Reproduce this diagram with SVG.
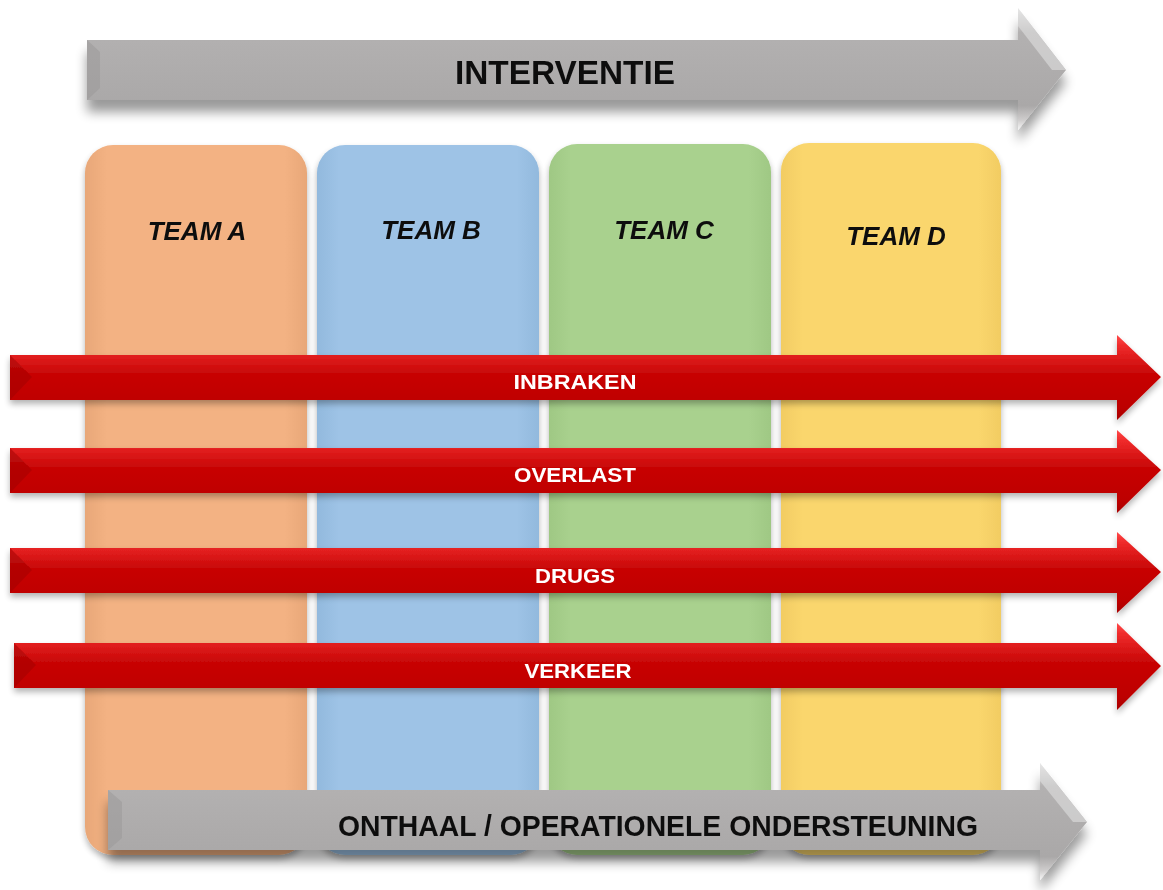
<svg xmlns="http://www.w3.org/2000/svg" width="1163" height="890" viewBox="0 0 1163 890">
<style>
.team{font-family:"Liberation Sans",Arial,sans-serif;font-weight:bold;font-style:italic;font-size:26px;fill:#111;text-anchor:middle}
.gtxt{font-family:"Liberation Sans",Arial,sans-serif;font-weight:bold;fill:#111;text-anchor:middle}
.rtxt{font-family:"Liberation Sans",Arial,sans-serif;font-weight:bold;font-size:21px;fill:#fff;text-anchor:middle}
</style>
<defs>
<filter id="sh" x="-10%" y="-30%" width="120%" height="180%">
<feGaussianBlur in="SourceAlpha" stdDeviation="6"/>
<feOffset dx="0" dy="12" result="b"/>
<feComponentTransfer><feFuncA type="linear" slope="0.4"/></feComponentTransfer>
<feMerge><feMergeNode/><feMergeNode in="SourceGraphic"/></feMerge>
</filter>
<filter id="shs" x="-5%" y="-30%" width="110%" height="170%">
<feGaussianBlur in="SourceAlpha" stdDeviation="3"/>
<feOffset dx="0" dy="4" result="b"/>
<feComponentTransfer><feFuncA type="linear" slope="0.3"/></feComponentTransfer>
<feMerge><feMergeNode/><feMergeNode in="SourceGraphic"/></feMerge>
</filter>
<linearGradient id="gray" x1="0" y1="0" x2="0" y2="1">
<stop offset="0" stop-color="#f4f4f4"/>
<stop offset="0.06" stop-color="#dad9d9"/>
<stop offset="0.2" stop-color="#b3b1b1"/>
<stop offset="0.8" stop-color="#aaa8a8"/>
<stop offset="0.92" stop-color="#cfcdcd"/>
<stop offset="1" stop-color="#f7f7f7"/>
</linearGradient>
<linearGradient id="red" x1="0" y1="0" x2="0" y2="1">
<stop offset="0" stop-color="#ff4a4a"/>
<stop offset="0.12" stop-color="#f02c2c"/>
<stop offset="0.45" stop-color="#c80606"/>
<stop offset="0.85" stop-color="#bd0000"/>
<stop offset="1" stop-color="#a80000"/>
</linearGradient>
<linearGradient id="cA" x1="0" y1="0" x2="1" y2="0"><stop offset="0" stop-color="#e8a778"/><stop offset="0.1" stop-color="#f3b283"/><stop offset="0.9" stop-color="#f3b283"/><stop offset="1" stop-color="#e8a778"/></linearGradient>
<linearGradient id="cB" x1="0" y1="0" x2="1" y2="0"><stop offset="0" stop-color="#92b9dd"/><stop offset="0.1" stop-color="#9ec3e6"/><stop offset="0.9" stop-color="#9ec3e6"/><stop offset="1" stop-color="#92b9dd"/></linearGradient>
<linearGradient id="cC" x1="0" y1="0" x2="1" y2="0"><stop offset="0" stop-color="#9fc884"/><stop offset="0.1" stop-color="#a9d18e"/><stop offset="0.9" stop-color="#a9d18e"/><stop offset="1" stop-color="#9fc884"/></linearGradient>
<linearGradient id="cD" x1="0" y1="0" x2="1" y2="0"><stop offset="0" stop-color="#f2cc62"/><stop offset="0.1" stop-color="#fad66d"/><stop offset="0.9" stop-color="#fad66d"/><stop offset="1" stop-color="#f2cc62"/></linearGradient>
</defs>
<rect width="1163" height="890" fill="#fff"/>

<g id="teamA" filter="url(#shs)"><rect x="85" y="145" width="222" height="710" rx="28" fill="url(#cA)"/><text class="team" x="197" y="240">TEAM A</text></g>
<g id="teamB" filter="url(#shs)"><rect x="317" y="145" width="222" height="710" rx="28" fill="url(#cB)"/><text class="team" x="431" y="239">TEAM B</text></g>
<g id="teamC" filter="url(#shs)"><rect x="549" y="144" width="222" height="711" rx="28" fill="url(#cC)"/><text class="team" x="664" y="239">TEAM C</text></g>
<g id="teamD" filter="url(#shs)"><rect x="781" y="143" width="220" height="712" rx="28" fill="url(#cD)"/><text class="team" x="896" y="245">TEAM D</text></g>

<g id="interventie" filter="url(#sh)">
<polygon points="87,40 1018,40 1018,8 1066,70 1018,130 1018,100 87,100" fill="url(#gray)"/>
<polygon points="1018,8 1066,70 1052,70 1018,26" fill="#e0dfdf" opacity="0.6"/>
<polygon points="87,40 100,52 100,88 87,100" fill="#9a9898" opacity="0.5"/>
<text class="gtxt" x="565" y="84" font-size="34" textLength="220" lengthAdjust="spacingAndGlyphs">INTERVENTIE</text>
</g>

<g id="connectors">
<g id="inbraken" filter="url(#shs)">
<polygon points="10,355 1117,355 1117,335 1161,377 1117,420 1117,400 10,400" fill="url(#red)"/>
<polygon points="10,355 32,377 10,400" fill="#a00000" opacity="0.5"/>
<text class="rtxt" x="575" y="389" textLength="123" lengthAdjust="spacingAndGlyphs">INBRAKEN</text>
</g>
<g id="overlast" filter="url(#shs)">
<polygon points="10,448 1117,448 1117,430 1161,470 1117,513 1117,493 10,493" fill="url(#red)"/>
<polygon points="10,448 32,470 10,493" fill="#a00000" opacity="0.5"/>
<text class="rtxt" x="575" y="482" textLength="122" lengthAdjust="spacingAndGlyphs">OVERLAST</text>
</g>
<g id="drugs" filter="url(#shs)">
<polygon points="10,548 1117,548 1117,532 1161,572 1117,613 1117,593 10,593" fill="url(#red)"/>
<polygon points="10,548 32,570 10,593" fill="#a00000" opacity="0.5"/>
<text class="rtxt" x="575" y="583" textLength="80" lengthAdjust="spacingAndGlyphs">DRUGS</text>
</g>
<g id="verkeer" filter="url(#shs)">
<polygon points="14,643 1117,643 1117,623 1161,666 1117,710 1117,688 14,688" fill="url(#red)"/>
<polygon points="14,643 36,665 14,688" fill="#a00000" opacity="0.5"/>
<text class="rtxt" x="578" y="678" textLength="107" lengthAdjust="spacingAndGlyphs">VERKEER</text>
</g>
</g>

<g id="onthaal" filter="url(#sh)">
<polygon points="108,790 1040,790 1040,763 1087,822 1040,880 1040,850 108,850" fill="url(#gray)"/>
<polygon points="1040,763 1087,822 1073,822 1040,781" fill="#e0dfdf" opacity="0.6"/>
<polygon points="108,790 122,802 122,838 108,850" fill="#9a9898" opacity="0.5"/>
<text class="gtxt" x="658" y="836" font-size="30" textLength="640" lengthAdjust="spacingAndGlyphs">ONTHAAL / OPERATIONELE ONDERSTEUNING</text>
</g>
</svg>
